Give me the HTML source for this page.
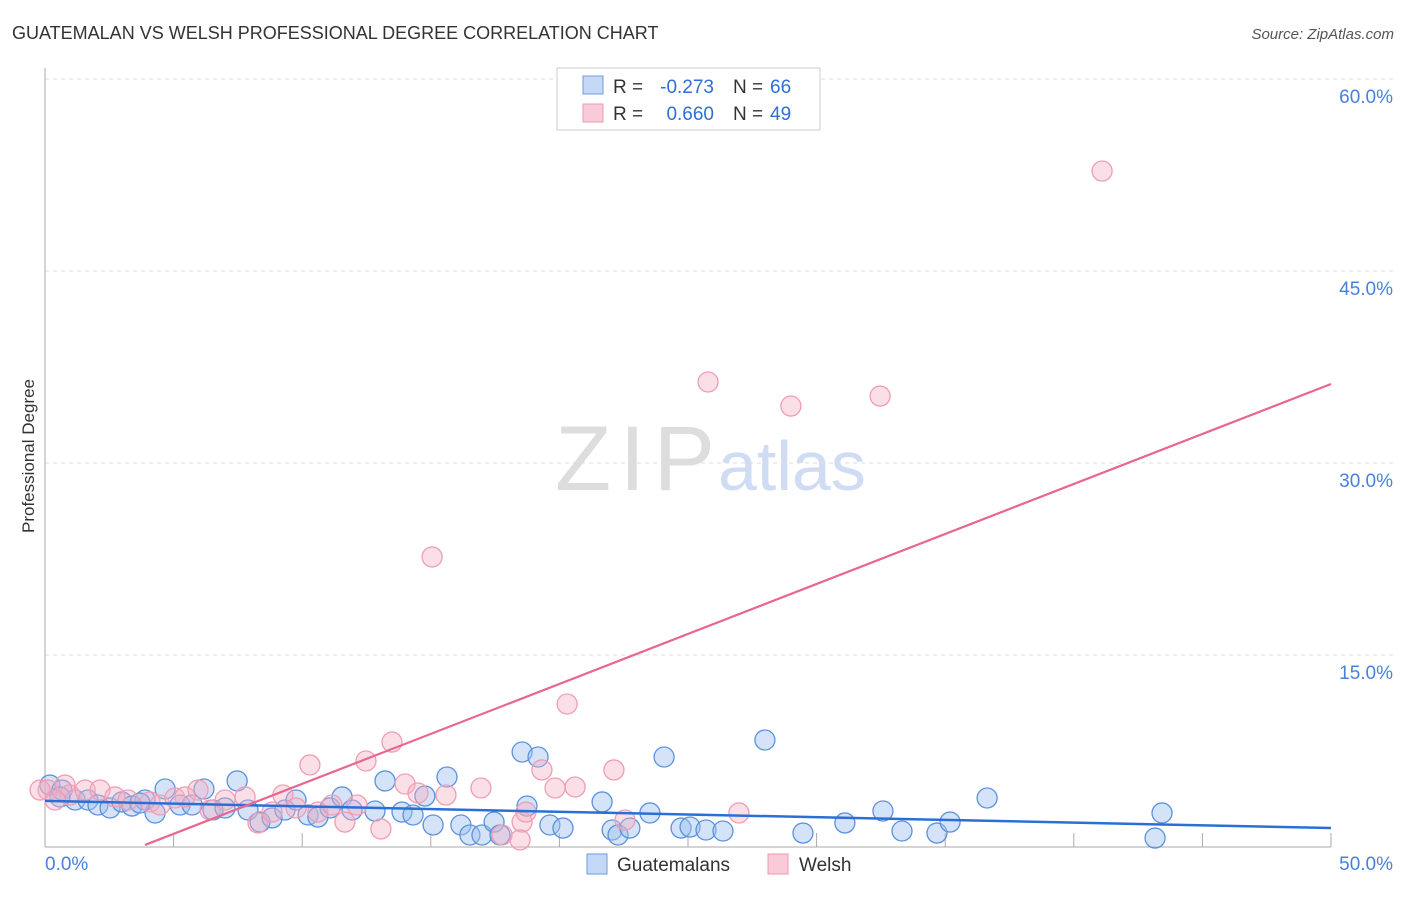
<!DOCTYPE html>
<html><head><meta charset="utf-8"><style>
body{margin:0;background:#fff;font-family:"Liberation Sans",sans-serif}
svg text{font-family:"Liberation Sans",sans-serif}
</style></head><body>
<svg width="1406" height="892" id="c">
<text x="12" y="39" font-size="18" fill="#333">GUATEMALAN VS WELSH PROFESSIONAL DEGREE CORRELATION CHART</text>
<text x="1394" y="39" font-size="15" fill="#555" text-anchor="end" font-style="italic">Source: ZipAtlas.com</text>
<text x="34" y="456" font-size="17" fill="#333" text-anchor="middle" transform="rotate(-90 34 456)">Professional Degree</text>
<text x="555" y="490" font-size="92" fill="#ddd" textLength="160" font-family="Liberation Serif">ZIP</text>
<text x="718" y="490" font-size="70" fill="#cfdcf3">atlas</text>
<g id="grid"></g><g id="pts"></g><g id="lines"></g>
<g>
<rect x="557" y="68" width="263" height="62" fill="#fff" stroke="#ccc"/>
<rect x="583" y="76" width="20" height="18" fill="#c5d8f5" stroke="#6a9ce0"/>
<rect x="583" y="104" width="20" height="18" fill="#f9cad7" stroke="#ee9ab2"/>
<text x="613" y="93" font-size="19" fill="#333">R =</text>
<text x="714" y="93" font-size="19" fill="#2d6fd6" text-anchor="end">-0.273</text>
<text x="733" y="93" font-size="19" fill="#333">N =</text>
<text x="770" y="93" font-size="19" fill="#2d6fd6">66</text>
<text x="613" y="120" font-size="19" fill="#333">R =</text>
<text x="714" y="120" font-size="19" fill="#2d6fd6" text-anchor="end">0.660</text>
<text x="733" y="120" font-size="19" fill="#333">N =</text>
<text x="770" y="120" font-size="19" fill="#2d6fd6">49</text>
</g>
<g>
<rect x="587" y="854" width="20" height="20" fill="#c5d8f5" stroke="#6a9ce0"/>
<text x="617" y="871" font-size="19" fill="#333">Guatemalans</text>
<rect x="768" y="854" width="20" height="20" fill="#f9cad7" stroke="#ee9ab2"/>
<text x="799" y="871" font-size="19" fill="#333">Welsh</text>
</g>
</svg>
<script>
const xTicks=[0,50];
const yTicks=[15,30,45,60];
const bluePts=[[50,785],[62,790],[75,800],[88,800],[98,805],[110,808],[122,802],[132,806],[145,800],[155,813],[165,789],[180,805],[192,805],[204,789],[213,810],[225,808],[237,781],[248,810],[260,822],[272,818],[285,810],[296,800],[308,815],[318,817],[330,808],[342,797],[352,810],[375,811],[385,781],[402,812],[413,815],[425,796],[433,825],[447,777],[461,825],[470,835],[482,835],[494,822],[500,835],[522,752],[527,806],[538,757],[550,825],[563,828],[602,802],[612,830],[618,835],[630,828],[650,813],[664,757],[681,828],[690,827],[706,830],[723,831],[765,740],[803,833],[845,823],[883,811],[902,831],[937,833],[950,822],[987,798],[1155,838],[1162,813],[60,797],[140,803]].map(p=>[+((p[0]-45)/25.72).toFixed(2),+((847-p[1])/12.8).toFixed(2)]);
const pinkPts=[[48,790],[65,785],[70,795],[85,790],[100,790],[115,797],[128,800],[150,802],[160,805],[175,798],[185,797],[198,790],[210,810],[225,800],[245,797],[258,823],[272,812],[283,795],[296,808],[310,765],[318,812],[332,805],[345,822],[357,805],[366,761],[381,829],[392,742],[405,784],[418,793],[432,557],[446,795],[481,788],[502,835],[522,822],[526,812],[542,770],[555,788],[567,704],[575,787],[614,770],[625,820],[708,382],[739,813],[791,406],[880,396],[1102,171],[40,790],[55,800],[520,840]].map(p=>[+((p[0]-45)/25.72).toFixed(2),+((847-p[1])/12.8).toFixed(2)]);
const blueTrend=[[0,3.6],[50,1.48]];
const pinkTrend=[[3.89,0.16],[50,36.17]];
const X=v=>45+v*25.72, Y=v=>847-v*12.8;
const NS='http://www.w3.org/2000/svg';
function mk(t,a,p){const e=document.createElementNS(NS,t);for(const k in a)e.setAttribute(k,a[k]);p.appendChild(e);return e;}
const g=document.getElementById('grid');
yTicks.forEach(v=>{const l=mk('line',{x1:45,x2:1393,y1:Y(v),y2:Y(v),stroke:'#ddd','stroke-dasharray':'4,4'},g);


const t=mk('text',{x:1393,y:Y(v)+24,'font-size':19,fill:'#4a80dc','text-anchor':'end'},g);t.textContent=v.toFixed(1)+'%';

});
mk('line',{x1:45,x2:45,y1:68,y2:847,stroke:'#aaa'},g);
mk('line',{x1:45,x2:1331,y1:847,y2:847,stroke:'#aaa'},g);
for(let i=1;i<=10;i++){mk('line',{x1:X(i*5),x2:X(i*5),y1:833,y2:847,stroke:'#aaa'},g);}
xTicks.forEach((v,i)=>{const t=mk('text',{x:i?1393:45,y:870,'font-size':19,fill:'#4a80dc','text-anchor':i?'end':'start'},g);t.textContent=v.toFixed(1)+'%';

});
const pg=document.getElementById('pts');
bluePts.forEach(p=>{const c=mk('circle',{cx:X(p[0]),cy:Y(p[1]),r:10,fill:'rgba(160,192,238,0.45)',stroke:'#5b92dd','stroke-width':1.3},pg);

});
pinkPts.forEach(p=>{const c=mk('circle',{cx:X(p[0]),cy:Y(p[1]),r:10,fill:'rgba(245,175,196,0.4)',stroke:'#ef9db5','stroke-width':1.3},pg);

});
const lg=document.getElementById('lines');
const bl=mk('line',{x1:X(blueTrend[0][0]),y1:Y(blueTrend[0][1]),x2:X(blueTrend[1][0]),y2:Y(blueTrend[1][1]),stroke:'#2a6fd6','stroke-width':2.5},lg);


const pl=mk('line',{x1:X(pinkTrend[0][0]),y1:Y(pinkTrend[0][1]),x2:X(pinkTrend[1][0]),y2:Y(pinkTrend[1][1]),stroke:'#e8668f','stroke-width':2.2},lg);


</script>
</body></html>
